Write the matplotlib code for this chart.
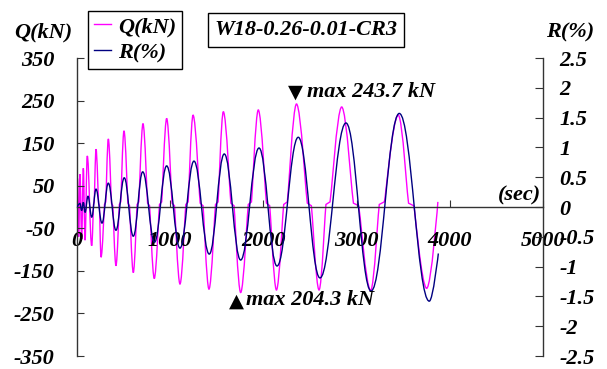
import matplotlib
matplotlib.use("Agg")
import matplotlib.pyplot as plt
from matplotlib.path import Path
from matplotlib.patches import PathPatch
from matplotlib.lines import Line2D

# drift ratio R(%) turning points (time in sec)
r_t = [0, 32, 50, 68, 86, 118, 158, 204, 268, 336, 418, 507, 604, 705, 832, 962,
       1105, 1255, 1419, 1580, 1756, 1953, 2146, 2374, 2607, 2886, 3155, 3458, 3780, 3877]
r_v = [0, 0.06, -0.06, 0.08, -0.09, 0.18, -0.17, 0.30, -0.27, 0.40, -0.39, 0.49, -0.49,
       0.59, -0.59, 0.69, -0.69, 0.77, -0.79, 0.89, -0.89, 0.99, -0.99, 1.17, -1.19,
       1.41, -1.41, 1.57, -1.58, -0.78]

# shear force Q(kN) turning points
q_t = [0, 5, 18, 32, 50, 68, 86, 110, 158, 204, 258, 336, 418, 504, 604, 708, 829, 962,
       1105, 1245, 1416, 1570, 1756, 1945, 2140, 2355, 2597, 2840, 3151, 3447, 3752, 3872]
q_v = [0, 67, -70, 77, -75, 91, -78, 120, -91, 136, -118, 160, -138, 179, -154, 196,
       -168, 208, -181, 216, -193, 224, -201, 228, -195, 242, -195, 235, -196, 216, -191, 12]

# times where Q stalls near zero at each reversal
q_flat_t = [181, 236, 302, 377, 462, 555, 654, 768, 897, 1033, 1180, 1337, 1500, 1668,
            1855, 2050, 2237, 2493, 2693, 2994, 3270, 3585]
q_flat_rise = (6, 12)   # kN at start/end of stall, load going up
q_flat_fall = (9, 3)    # kN at start/end of stall, load going down

x_ticks = [0, 1000, 2000, 3000, 4000, 5000]
q_ticks = [-350, -250, -150, -50, 50, 150, 250, 350]
r_ticks = [-2.5, -2, -1.5, -1, -0.5, 0, 0.5, 1, 1.5, 2, 2.5]

FONT = ["Liberation Serif", "DejaVu Serif"]
FS = 16
plt.rcParams["font.family"] = FONT
plt.rcParams["font.weight"] = "bold"
plt.rcParams["font.style"] = "italic"


def smooth_path(ts, vs, hs):
    verts = [(ts[0], vs[0])]
    codes = [Path.MOVETO]
    for i in range(len(ts) - 1):
        dt = ts[i + 1] - ts[i]
        verts += [(ts[i] + hs[i] * dt, vs[i]),
                  (ts[i + 1] - hs[i + 1] * dt, vs[i + 1]),
                  (ts[i + 1], vs[i + 1])]
        codes += [Path.CURVE4] * 3
    return Path(verts, codes)


def with_stalls(ts, vs):
    pts = [(t, v, 0.4) for t, v in zip(ts, vs)]
    for c in q_flat_t:
        i = max(k for k in range(len(ts)) if ts[k] < c)
        hw = 0.09 * (ts[i + 1] - ts[i])
        lv = q_flat_rise if vs[i + 1] > vs[i] else q_flat_fall
        pts += [(c - hw, lv[0], 0.08), (c + hw, lv[1], 0.08)]
    pts.sort()
    return [p[0] for p in pts], [p[1] for p in pts], [p[2] for p in pts]


fig = plt.figure(figsize=(6.07, 3.69), dpi=100)
ax = fig.add_axes([77 / 607, 1 - 356 / 369, 466 / 607, 298 / 369])
ax2 = ax.twinx()

qt, qv, qh = with_stalls(q_t, q_v)
qh[0] = qh[-1] = 0
ax.add_patch(PathPatch(smooth_path(qt, qv, qh), fill=False, edgecolor="#FF00FF", lw=1.0))
rh = [0.4] * len(r_t)
rh[0] = rh[-1] = 0
ax2.add_patch(PathPatch(smooth_path(r_t, r_v, rh), fill=False, edgecolor="#000080", lw=1.0))

ax.set_xlim(0, 5000)
ax.set_ylim(-350, 350)
ax2.set_ylim(-2.5, 2.5)

for s in ["top", "right"]:
    ax.spines[s].set_visible(False)
ax.spines["bottom"].set_position(("data", 0))
for s in ["top", "left", "bottom"]:
    ax2.spines[s].set_visible(False)
for sp in list(ax.spines.values()) + [ax2.spines["right"]]:
    sp.set_color("#333333")
    sp.set_linewidth(1.0)

ax.set_xticks(x_ticks)
ax.set_xticklabels([str(v) for v in x_ticks])
ax.set_yticks(q_ticks)
ax.set_yticklabels([str(v) for v in q_ticks])
ax2.set_yticks(r_ticks)
ax2.set_yticklabels(["%g" % v for v in r_ticks])
ax.tick_params(axis="x", direction="in", length=5, pad=17, labelsize=FS, color="#333333")
ax.tick_params(axis="y", direction="in", length=5, pad=16, labelsize=FS, color="#333333")
ax2.tick_params(axis="y", direction="in", length=6, pad=12, labelsize=FS, color="#333333")

fig.text(43 / 607, 1 - 32 / 369, "Q(kN)", ha="center", va="center", fontsize=FS)
fig.text(570 / 607, 1 - 32 / 369, "R(%)", ha="center", va="center", fontsize=FS)
fig.text(541 / 607, 1 - 195 / 369, "(sec)", ha="right", va="center", fontsize=FS)
fig.text(306 / 607, 1 - 30 / 369, "W18-0.26-0.01-CR3", ha="center", va="center", fontsize=FS,
         bbox=dict(boxstyle="square,pad=0.3", fc="white", ec="black", lw=1.0))

tri = ["DejaVu Sans"]
fig.text(295 / 607, 1 - 92 / 369, "\u25bc", ha="center", va="center", fontsize=14,
         family=tri, style="normal")
fig.text(307 / 607, 1 - 92 / 369, "max 243.7 kN", ha="left", va="center", fontsize=FS)
fig.text(236 / 607, 1 - 301 / 369, "\u25b2", ha="center", va="center", fontsize=14,
         family=tri, style="normal")
fig.text(246 / 607, 1 - 300 / 369, "max 204.3 kN", ha="left", va="center", fontsize=FS)

handles = [Line2D([], [], color="#FF00FF", lw=1.0), Line2D([], [], color="#000080", lw=1.0)]
leg = fig.legend(handles, ["Q(kN)", "R(%)"], loc="upper left",
                 bbox_to_anchor=(88 / 607, 1 - 11 / 369), bbox_transform=fig.transFigure,
                 borderaxespad=0, fontsize=FS, fancybox=False, framealpha=1,
                 edgecolor="black", handlelength=0.8, handletextpad=0.3,
                 labelspacing=0.25, borderpad=0.25)
leg.get_frame().set_linewidth(1.0)

fig.savefig("out.png", dpi=100)
plt.close(fig)
